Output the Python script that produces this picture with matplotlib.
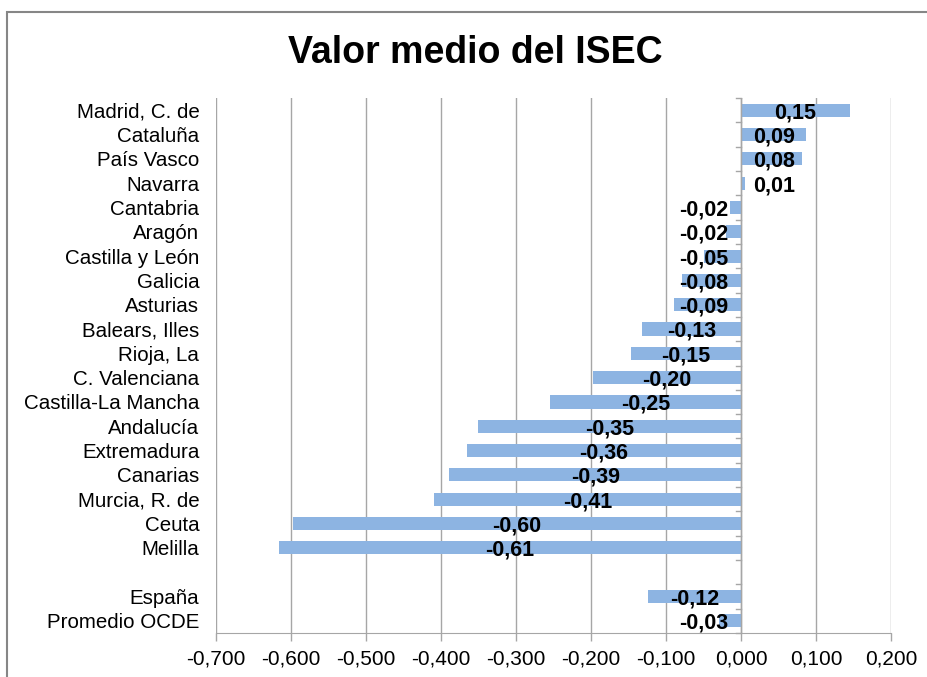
import matplotlib
matplotlib.use("Agg")
import matplotlib.pyplot as plt
from matplotlib.patches import Rectangle
import numpy as np

plt.rcParams['font.family'] = ['Liberation Sans', 'DejaVu Sans']

categories = ["Madrid, C. de", "Cataluña", "País Vasco", "Navarra", "Cantabria",
              "Aragón", "Castilla y León", "Galicia", "Asturias", "Balears, Illes",
              "Rioja, La", "C. Valenciana", "Castilla-La Mancha", "Andalucía",
              "Extremadura", "Canarias", "Murcia, R. de", "Ceuta", "Melilla",
              "", "España", "Promedio OCDE"]
values = [0.145, 0.087, 0.081, 0.005, -0.015,
          -0.020, -0.050, -0.079, -0.090, -0.132,
          -0.147, -0.197, -0.255, -0.351,
          -0.365, -0.389, -0.409, -0.597, -0.616,
          np.nan, -0.124, -0.030]
labels = ["0,15", "0,09", "0,08", "0,01", "-0,02",
          "-0,02", "-0,05", "-0,08", "-0,09", "-0,13",
          "-0,15", "-0,20", "-0,25", "-0,35",
          "-0,36", "-0,39", "-0,41", "-0,60", "-0,61",
          "", "-0,12", "-0,03"]
xticks = [-0.7, -0.6, -0.5, -0.4, -0.3, -0.2, -0.1, 0.0, 0.1, 0.2]
xticklabels = ["-0,700", "-0,600", "-0,500", "-0,400", "-0,300", "-0,200",
               "-0,100", "0,000", "0,100", "0,200"]
title = "Valor medio del ISEC"

W, H = 927, 677
fig = plt.figure(figsize=(W / 100, H / 100), dpi=100)
fig.patch.set_facecolor("white")

# outer chart frame
fig.add_artist(Rectangle((7.5 / W, -0.05), 1.1, 1 - 12 / H + 0.05,
                         transform=fig.transFigure, fill=False,
                         edgecolor="#868686", linewidth=1.5))

ax = fig.add_axes([216 / W, 1 - 633 / H, (891 - 216) / W, (633 - 98) / H])
n = len(categories)
y = np.arange(n)
vals = np.array(values, dtype=float)
ax.barh(y, np.nan_to_num(vals), height=0.54, color="#8DB4E2", zorder=2)

ax.set_xlim(-0.7, 0.2)
ax.set_ylim(n - 0.5, -0.5)
ax.set_xticks(xticks)
ax.set_xticklabels(xticklabels, fontsize=15, color="#000000")
ax.set_yticks(y)
ax.set_yticklabels(categories, fontsize=14.8)
ax.tick_params(axis='y', length=0, pad=12)
ax.tick_params(axis='x', length=6, width=1, color="#A6A6A6", pad=6, direction='out')
ax.grid(axis='x', color="#A6A6A6", linewidth=1, zorder=0)
for s in ["top", "right", "left"]:
    ax.spines[s].set_visible(False)
ax.spines["bottom"].set_color("#A6A6A6")

# vertical axis at zero with tick marks at category boundaries
ax.axvline(0, color="#A6A6A6", linewidth=1, zorder=3)
for b in np.arange(-0.5, n, 1.0):
    ax.plot([-0.007, 0], [b, b], color="#A6A6A6", linewidth=1, zorder=3, clip_on=False)

# data labels
fs = 15.5
for yi, v, lab in zip(y, vals, labels):
    if np.isnan(v):
        continue
    if v < 0:
        half = 0.033
        c = v / 2
        if c + half > -0.018:
            ax.text(-0.017, yi + 0.1, lab, ha='right', va='center', fontsize=fs,
                    fontweight='bold', zorder=4)
        else:
            ax.text(c, yi + 0.1, lab, ha='center', va='center', fontsize=fs,
                    fontweight='bold', zorder=4)
    else:
        half = 0.028
        c = v / 2
        if c - half < 0.016:
            ax.text(0.016, yi + 0.1, lab, ha='left', va='center', fontsize=fs,
                    fontweight='bold', zorder=4)
        else:
            ax.text(c, yi + 0.1, lab, ha='center', va='center', fontsize=fs,
                    fontweight='bold', zorder=4)

fig.text(475 / W, 1 - 53 / H, title, ha='center', va='center', fontsize=27,
         fontweight='bold')

fig.savefig("out.png", dpi=100)
